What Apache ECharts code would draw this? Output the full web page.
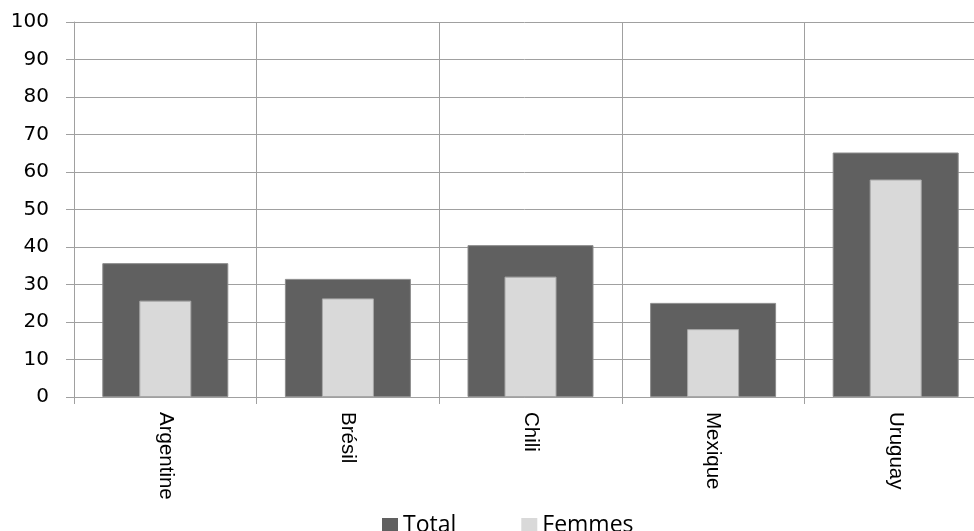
<!DOCTYPE html>
<html>
<head>
<meta charset="utf-8">
<title>Total et femmes par pays</title>
<script src="https://cdn.jsdelivr.net/npm/echarts@6/dist/echarts.min.js"></script>
<style>
  html, body { margin: 0; padding: 0; background: #fff; }
  #chart { width: 974px; height: 531px; }
</style>
</head>
<body>
<div id="chart"></div>
<script>
const categories = ['Argentine', 'Brésil', 'Chili', 'Mexique', 'Uruguay'];
const totalValues = [35.7, 31.5, 40.5, 25.1, 65.2];
const femmesValues = [25.7, 26.3, 32.1, 18.1, 58.0];
const seriesNames = ['Total', 'Femmes'];

const gridColor = '#a0a0a0';
const chart = echarts.init(document.getElementById('chart'));

// Two category axes share the same band so each bar is centred in its
// category while the narrow one sits in front of the wide one.
const baseXAxis = {
  type: 'category',
  data: categories,
  boundaryGap: true,
  axisLine: { show: true, lineStyle: { color: gridColor, width: 1 } },
  axisTick: { show: true, length: 7, lineStyle: { color: gridColor } },
  splitLine: { show: true, lineStyle: { color: gridColor, width: 1 } },
  axisLabel: {
    rotate: -90,
    margin: 15,
    color: '#000',
    fontFamily: 'Liberation Sans',
    fontSize: 20.5
  }
};

chart.setOption({
  animation: false,
  backgroundColor: '#fff',
  // the plot area runs a little past the right edge of the canvas
  grid: {
    left: 74,
    top: 22,
    bottom: 134,
    width: 913,
    containLabel: false,
    outerBoundsMode: 'none'
  },
  legend: {
    data: seriesNames,
    top: 514,
    left: 382,
    padding: 0,
    icon: 'rect',
    itemWidth: 16,
    itemHeight: 15,
    itemGap: 65,
    itemStyle: { borderWidth: 0 },
    textStyle: { color: '#000', fontFamily: 'Open Sans', fontSize: 23 }
  },
  xAxis: [
    baseXAxis,
    Object.assign({}, baseXAxis, {
      show: false,
      axisLine: { show: false },
      axisTick: { show: false },
      splitLine: { show: false },
      axisLabel: { show: false }
    })
  ],
  yAxis: {
    type: 'value',
    min: 0,
    max: 100,
    interval: 10,
    axisLine: { show: true, lineStyle: { color: gridColor, width: 1 } },
    axisTick: { show: true, length: 8, lineStyle: { color: gridColor } },
    splitLine: { show: true, lineStyle: { color: gridColor, width: 1 } },
    axisLabel: {
      margin: 25,
      color: '#000',
      fontFamily: 'DejaVu Sans',
      fontSize: 20
    }
  },
  series: [
    {
      name: seriesNames[0],
      type: 'bar',
      xAxisIndex: 0,
      data: totalValues,
      barWidth: 126,
      itemStyle: { color: '#606060', borderColor: '#8c8c8c', borderWidth: 1 },
      z: 2
    },
    {
      name: seriesNames[1],
      type: 'bar',
      xAxisIndex: 1,
      data: femmesValues,
      barWidth: 52,
      itemStyle: { color: '#d9d9d9', borderColor: '#a8a8a8', borderWidth: 1 },
      z: 3
    }
  ]
});
</script>
</body>
</html>
